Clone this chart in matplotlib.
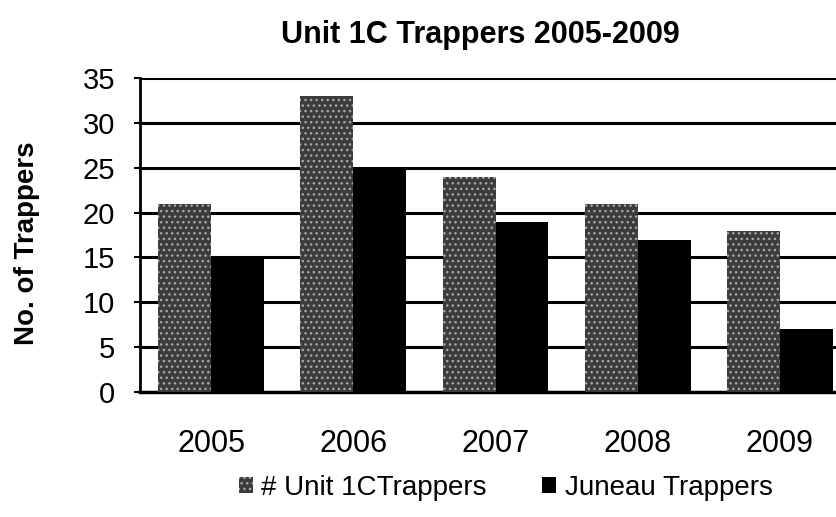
import matplotlib
matplotlib.use("Agg")
import matplotlib.pyplot as plt
import numpy as np
from matplotlib.patches import Patch

plt.rcParams['font.family'] = ['Liberation Sans', 'DejaVu Sans']
plt.rcParams['hatch.linewidth'] = 1.0

years = ["2005", "2006", "2007", "2008", "2009"]
unit_1c = [21, 33, 24, 21, 18]
juneau = [15, 25, 19, 17, 7]
y_ticks = [0, 5, 10, 15, 20, 25, 30, 35]

gray_face = "#3c3c3c"
gray_hatch = "#a8a8a8"

fig = plt.figure(figsize=(8.36, 5.17), dpi=100)
ax = fig.add_axes([0.1675, 0.2418, 0.8505, 0.6072])

x = np.arange(len(years))
w = 0.372
ax.bar(x - w / 2, unit_1c, width=w, color=gray_face, edgecolor=gray_hatch,
       hatch="...", linewidth=0, zorder=3)
ax.bar(x + w / 2, juneau, width=w, color="black", linewidth=0, zorder=3)

ax.set_xlim(-0.5, len(years) - 0.5)
ax.set_ylim(0, 35)
ax.set_yticks(y_ticks)
ax.set_yticklabels([str(v) for v in y_ticks], fontsize=21)
ax.set_xticks(x)
ax.set_xticklabels(years, fontsize=22)
ax.tick_params(axis="x", length=0, pad=27)
ax.tick_params(axis="y", length=4, width=1.5, pad=14)

ax.yaxis.grid(True, color="black", linewidth=2.2, zorder=1)
ax.set_axisbelow(True)
for side in ("top", "right"):
    ax.spines[side].set_visible(False)
ax.spines["left"].set_linewidth(2)
ax.spines["bottom"].set_linewidth(2.5)

fig.text(0.575, 0.932, "Unit 1C Trappers 2005-2009", ha="center", va="center",
         fontsize=22, fontweight="bold")
fig.text(0.032, 0.53, "No. of Trappers", ha="center", va="center",
         rotation=90, fontsize=20, fontweight="bold")

handles = [
    Patch(facecolor=gray_face, edgecolor=gray_hatch, hatch="...", linewidth=0),
    Patch(facecolor="black", linewidth=0),
]
fig.legend(handles, ["# Unit 1CTrappers", "Juneau Trappers"],
           loc="center", bbox_to_anchor=(0.605, 0.056), ncol=2, frameon=False,
           fontsize=20, handlelength=0.5, handleheight=0.5,
           handletextpad=0.3, columnspacing=2.0)

fig.savefig("out.png", dpi=100)
